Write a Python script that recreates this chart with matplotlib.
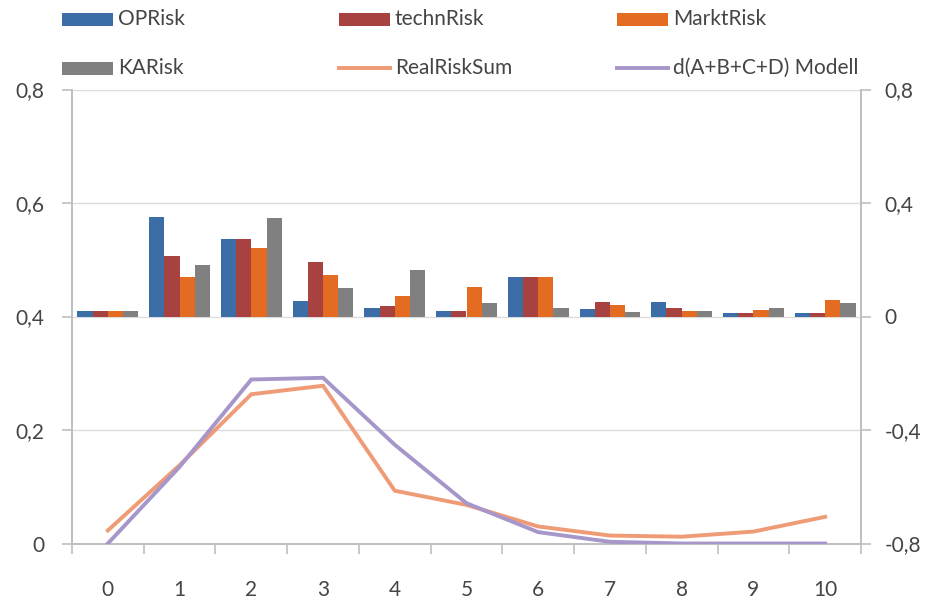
import matplotlib
matplotlib.use("Agg")
import matplotlib.pyplot as plt
import numpy as np
from matplotlib.patches import Rectangle
from matplotlib.lines import Line2D

plt.rcParams['font.family'] = ['Lato', 'DejaVu Sans']

# Categories on the x axis
categories = [str(i) for i in range(11)]

# Risk components (bars, right axis)
op_risk = [0.020, 0.349, 0.274, 0.056, 0.031, 0.020, 0.138, 0.027, 0.050, 0.014, 0.012]
techn_risk = [0.020, 0.212, 0.274, 0.192, 0.038, 0.020, 0.138, 0.050, 0.030, 0.012, 0.012]
markt_risk = [0.020, 0.138, 0.240, 0.147, 0.074, 0.104, 0.138, 0.041, 0.020, 0.023, 0.057]
ka_risk = [0.020, 0.180, 0.346, 0.102, 0.165, 0.048, 0.030, 0.015, 0.020, 0.030, 0.048]

# Sum curves (lines, left axis)
real_risk_sum = [0.023, 0.138, 0.263, 0.278, 0.093, 0.068, 0.030, 0.014, 0.012, 0.021, 0.047]
model_sum = [0.000, 0.135, 0.289, 0.292, 0.174, 0.071, 0.020, 0.003, 0.000, 0.000, 0.000]

left_ticks = [0, 0.2, 0.4, 0.6, 0.8]
left_labels = ["0", "0,2", "0,4", "0,6", "0,8"]
right_ticks = [-0.8, -0.4, 0, 0.4, 0.8]
right_labels = ["-0,8", "-0,4", "0", "0,4", "0,8"]

bar_names = ["OPRisk", "technRisk", "MarktRisk", "KARisk"]
bar_colors = ["#3B6EA6", "#A84240", "#E46C22", "#808080"]
line_names = ["RealRiskSum", "d(A+B+C+D) Modell"]
line_colors = ["#EE9B76", "#A696CA"]

text_color = "#454545"
spine_color = "#BFBFBF"
grid_color = "#DCDCDC"

W, H = 929, 601
fig = plt.figure(figsize=(W / 100, H / 100), dpi=100)
ax = fig.add_axes([72 / W, 1 - 543.5 / H, (861 - 72) / W, (543.5 - 89.5) / H])

x = np.arange(len(categories))
bw = 0.212
series = [op_risk, techn_risk, markt_risk, ka_risk]
for k, (vals, col) in enumerate(zip(series, bar_colors)):
    ax.bar(x + (k - 1.5) * bw, vals, width=bw, color=col, zorder=2, linewidth=0)

ax.set_xlim(-0.5, len(categories) - 0.5)
ax.set_ylim(-0.8, 0.8)
ax.set_yticks(right_ticks)
ax.set_yticklabels(right_labels)
ax.yaxis.tick_right()
ax.set_axisbelow(True)
ax.grid(axis='y', color=grid_color, linewidth=1.0, zorder=0)

# Lines on the left-hand axis, drawn above the bars
ax2 = ax.twinx()
ax2.yaxis.tick_left()
for vals, col in zip([real_risk_sum, model_sum], line_colors):
    ax2.plot(x, vals, color=col, linewidth=2.8, solid_joinstyle='miter', zorder=3)
ax2.set_ylim(0, 0.8)
ax2.set_yticks(left_ticks)
ax2.set_yticklabels(left_labels)

# x axis: labels under category centres, tick marks on the boundaries
ax.set_xticks(x)
ax.set_xticklabels(categories)
ax.set_xticks(np.arange(-0.5, len(categories), 1.0), minor=True)
ax.tick_params(axis='x', which='major', length=0, pad=26, labelsize=15, labelcolor=text_color)
ax.tick_params(axis='x', which='minor', length=7, width=1.2, color=spine_color, direction='out')
ax.tick_params(axis='y', length=7, width=1.2, color=spine_color, pad=10,
               labelsize=15, labelcolor=text_color, left=False, right=True,
               labelleft=False, labelright=True)
ax2.tick_params(axis='y', length=7, width=1.2, color=spine_color, pad=13,
                labelsize=15, labelcolor=text_color, left=True, right=False,
                labelleft=True, labelright=False)
ax2.tick_params(axis='x', length=0)

for a in (ax, ax2):
    a.spines['top'].set_visible(False)
    for s in ('left', 'right', 'bottom'):
        a.spines[s].set_color(spine_color)
        a.spines[s].set_linewidth(1.4)

# Legend: two rows of three entries across the top
col_x = [62, 339, 617]
row_y = [19, 68]
entries = [
    ("bar", bar_names[0], bar_colors[0]), ("bar", bar_names[1], bar_colors[1]),
    ("bar", bar_names[2], bar_colors[2]), ("bar", bar_names[3], bar_colors[3]),
    ("line", line_names[0], line_colors[0]), ("line", line_names[1], line_colors[1]),
]
for i, (kind, name, col) in enumerate(entries):
    cx = col_x[i % 3]
    cy = row_y[i // 3]
    if kind == "bar":
        fig.add_artist(Rectangle((cx / W, 1 - (cy + 6.5) / H), 51 / W, 13 / H,
                                 transform=fig.transFigure, color=col, linewidth=0))
    else:
        fig.add_artist(Line2D([cx / W, (cx + 51) / W], [1 - cy / H, 1 - cy / H],
                              transform=fig.transFigure, color=col, linewidth=2.8))
    fig.text((cx + 56) / W, 1 - cy / H, name, ha='left', va='center',
             fontsize=15, color=text_color)

fig.savefig("out.png", dpi=100)
